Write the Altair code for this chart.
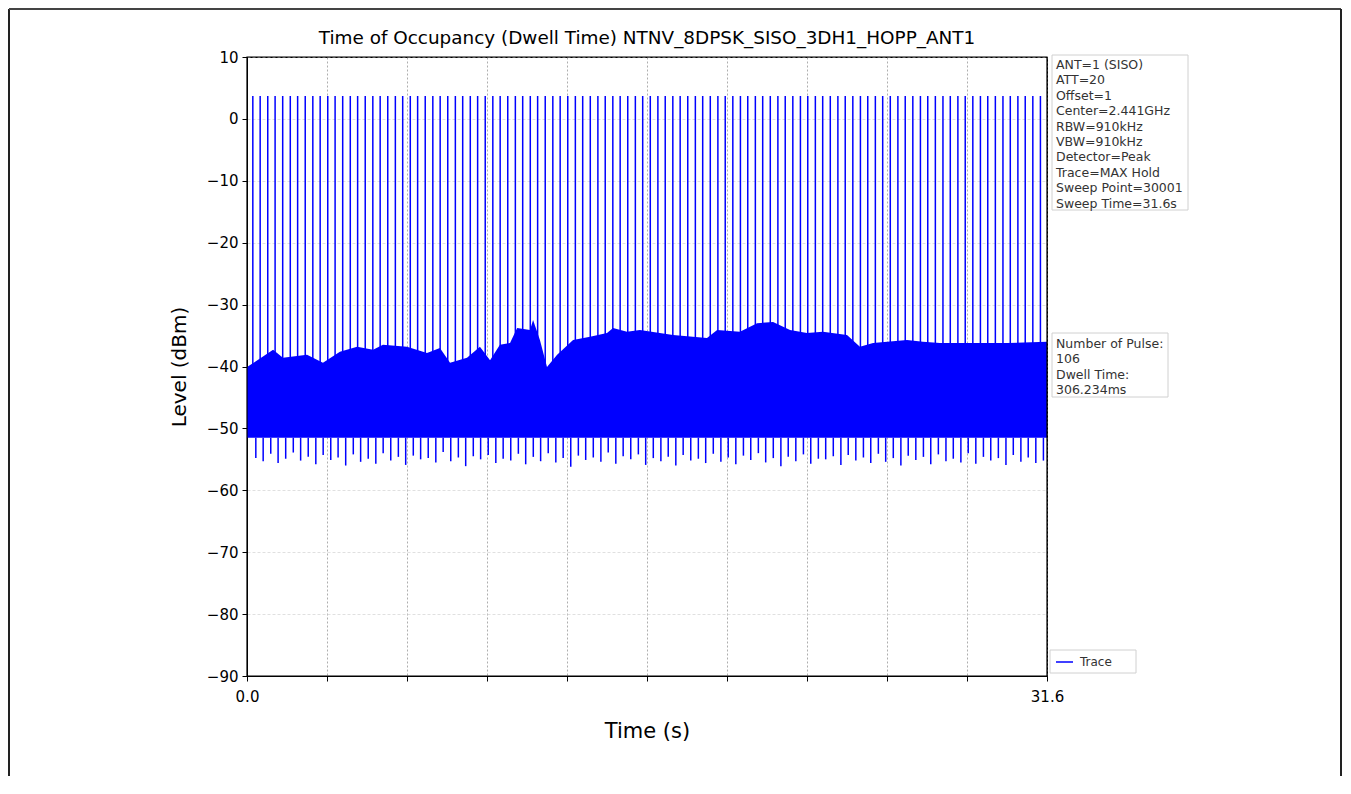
import altair as alt
import pandas as pd

# ---------------- data ----------------
pulse_times = [0.23, 0.52, 0.82, 1.11, 1.41, 1.71, 2.00, 2.30, 2.60, 2.89,
               3.19, 3.48, 3.78, 4.08, 4.37, 4.67, 4.97, 5.26, 5.56, 5.86,
               6.15, 6.45, 6.74, 7.04, 7.34, 7.63, 7.93, 8.23, 8.52, 8.82,
               9.11, 9.41, 9.71, 10.00, 10.30, 10.60, 10.89, 11.19, 11.48, 11.78,
               12.08, 12.37, 12.67, 12.97, 13.26, 13.56, 13.86, 14.15, 14.45, 14.74,
               15.04, 15.34, 15.63, 15.93, 16.23, 16.52, 16.82, 17.11, 17.41, 17.71,
               18.00, 18.30, 18.60, 18.89, 19.19, 19.49, 19.78, 20.08, 20.37, 20.67,
               20.97, 21.26, 21.56, 21.86, 22.15, 22.45, 22.74, 23.04, 23.34, 23.63,
               23.93, 24.23, 24.52, 24.82, 25.11, 25.41, 25.71, 26.00, 26.30, 26.60,
               26.89, 27.19, 27.49, 27.78, 28.08, 28.37, 28.67, 28.97, 29.26, 29.56,
               29.86, 30.15, 30.45, 30.74, 31.04, 31.34]
pulse_level = 3.7
pulse_base = -45.0

env_t = [0.0, 1.03, 1.42, 2.37, 3.0, 3.67, 4.35, 4.98, 5.37, 6.32, 7.11, 7.62,
         8.02, 8.69, 9.2, 9.6, 9.99, 10.39, 10.67, 11.18, 11.3, 11.57, 11.85,
         12.25, 12.88, 13.55, 14.22, 14.46, 15.01, 15.52, 16.83, 18.17, 18.57,
         19.47, 20.15, 20.78, 21.45, 22.12, 22.75, 23.7, 24.21, 24.73, 26.07,
         26.7, 27.37, 28.68, 30.02, 31.6]
env_top = [-40.1, -37.3, -38.6, -38.1, -39.4, -37.6, -36.8, -37.3, -36.5, -36.8,
           -37.8, -37.0, -39.4, -38.6, -36.8, -39.0, -36.5, -36.2, -33.8, -34.1,
           -32.5, -35.7, -40.1, -38.1, -35.7, -35.2, -34.6, -33.8, -34.4, -34.1,
           -34.9, -35.4, -34.1, -34.4, -33.0, -32.8, -34.1, -34.6, -34.4, -34.9,
           -36.8, -36.2, -35.7, -36.0, -36.2, -36.2, -36.2, -36.0]
band_bottom = -51.5

spike_depth = [-54.8, -55.3, -54.1, -55.6, -54.9, -53.9, -55.2, -54.6, -55.8, -54.3,
               -55.1, -54.7, -56.0, -54.2, -55.4, -54.9, -55.7, -54.0, -55.2, -54.6,
               -55.9, -54.4, -55.0, -54.8, -55.5, -53.8, -55.3, -54.7, -56.1, -54.5,
               -55.0, -54.3, -55.6, -54.9, -55.2, -54.1, -55.8, -54.6, -55.3, -54.0,
               -55.5, -54.8, -56.2, -54.4, -55.1, -54.7, -55.4, -53.9, -55.7, -54.5,
               -55.0, -54.2, -55.9, -54.8, -55.3, -54.6, -56.0, -54.3, -55.2, -54.9,
               -55.6, -54.1, -55.4, -54.7, -55.8, -54.4, -55.1, -54.0, -55.5, -54.8,
               -56.1, -54.6, -55.3, -54.2, -55.7, -54.9, -55.0, -54.5, -55.9, -54.3,
               -55.2, -54.7, -55.6, -54.1, -55.4, -54.8, -56.0, -54.4, -55.1, -54.6,
               -55.8, -54.2, -55.3, -54.9, -55.5, -54.0, -55.7, -54.6, -55.2, -54.8,
               -55.9, -54.3, -55.4, -54.7, -55.6, -55.2]

x_ticks = [0, 3.16, 6.32, 9.48, 12.64, 15.8, 18.96, 22.12, 25.28, 28.44, 31.6]
y_ticks = [-90, -80, -70, -60, -50, -40, -30, -20, -10, 0, 10]

info_lines = ["ANT=1 (SISO)", "ATT=20", "Offset=1", "Center=2.441GHz", "RBW=910kHz",
              "VBW=910kHz", "Detector=Peak", "Trace=MAX Hold", "Sweep Point=30001",
              "Sweep Time=31.6s"]
pulse_lines = ["Number of Pulse:", "106", "Dwell Time:", "306.234ms"]
title_text = "Time of Occupancy (Dwell Time) NTNV_8DPSK_SISO_3DH1_HOPP_ANT1"

# ---------------- tables ----------------
pulses = pd.DataFrame({"t": pulse_times, "top": pulse_level, "base": pulse_base})
env = pd.DataFrame({"t": env_t, "top": env_top, "bottom": band_bottom})
spikes = pd.DataFrame({"t": pulse_times, "depth": spike_depth, "bottom": band_bottom})
one = pd.DataFrame({"k": [0]})

BLUE = "#0000ff"
FONT = "DejaVu Sans"
W, H = 800, 619

xscale = alt.Scale(domain=[0, 31.6], nice=False, zero=False)
yscale = alt.Scale(domain=[-90, 10], nice=False, zero=False)

xaxis = alt.Axis(values=x_ticks, title="Time (s)",
                 labelExpr="datum.value == 0 ? '0.0' : (datum.value == 31.6 ? '31.6' : '')",
                 grid=True, gridDash=[2, 2], gridColor="#999999", gridWidth=0.8,
                 titleFontSize=21, titleFontWeight="normal", titlePadding=16,
                 labelFontSize=15, labelPadding=8, labelFlush=False)
yaxis = alt.Axis(values=y_ticks, title="Level (dBm)",
                 labelExpr="replace(datum.label, '-', '\u2212')",
                 grid=True, gridDash=[3, 2], gridColor="#d8d8d8", gridWidth=0.8,
                 titleFontSize=20, titleFontWeight="normal", titlePadding=17,
                 labelFontSize=15, labelPadding=4)

band = alt.Chart(env).mark_area(color=BLUE, opacity=1, interpolate="linear").encode(
    x=alt.X("t:Q", scale=xscale, axis=xaxis),
    y=alt.Y("top:Q", scale=yscale, axis=yaxis),
    y2="bottom:Q",
)

pulse_rules = alt.Chart(pulses).mark_rule(color=BLUE, strokeWidth=1.5).encode(
    x="t:Q", y="top:Q", y2="base:Q"
)

spike_rules = alt.Chart(spikes).mark_rule(color=BLUE, strokeWidth=1.5, xOffset=3).encode(
    x="t:Q", y="depth:Q", y2="bottom:Q"
)

# black frame of the plot area (drawn over the end grid lines)
frame = alt.Chart(one).mark_rect(fill=None, fillOpacity=0, stroke="#000000", strokeWidth=1.2).encode(
    x=alt.value(0), x2=alt.value(W), y=alt.value(0), y2=alt.value(H))

title_mark = alt.Chart(one).mark_text(
    text=title_text, align="center", baseline="middle", font=FONT, fontSize=18.4, color="#000000"
).encode(x=alt.value(W / 2), y=alt.value(-19))

def box(x1, x2, y1, y2):
    return alt.Chart(one).mark_rect(fill="white", stroke="#cccccc", strokeWidth=1, opacity=0.9).encode(
        x=alt.value(x1), x2=alt.value(x2), y=alt.value(y1), y2=alt.value(y2))

def text_block(lines, x, y, lh):
    return alt.Chart(one).mark_text(
        text="\n".join(lines), lineBreak="\n", lineHeight=lh, align="left", baseline="top",
        font=FONT, fontSize=12.5, color="#333333"
    ).encode(x=alt.value(x), y=alt.value(y))

info_box = box(805, 941, -2, 153)
info_text = text_block(info_lines, 809, 2, 15.4)
pulse_box = box(805, 921, 276, 340)
pulse_text = text_block(pulse_lines, 809, 281, 15.4)

legend_box = box(803, 889, 593, 616)
legend_line = alt.Chart(one).mark_rule(color=BLUE, strokeWidth=1.5).encode(
    x=alt.value(809), x2=alt.value(826), y=alt.value(605))
legend_text = alt.Chart(one).mark_text(
    text="Trace", align="left", baseline="middle", font=FONT, fontSize=12, color="#333333"
).encode(x=alt.value(833), y=alt.value(605))

# outer picture frame (left, top, right edges)
outer_left = alt.Chart(one).mark_rule(color="#222222", strokeWidth=2).encode(
    x=alt.value(-238), y=alt.value(-48), y2=alt.value(720))
outer_top = alt.Chart(one).mark_rule(color="#444444", strokeWidth=2).encode(
    x=alt.value(-238), x2=alt.value(1094), y=alt.value(-48))
outer_right = alt.Chart(one).mark_rule(color="#222222", strokeWidth=2).encode(
    x=alt.value(1094), y=alt.value(-48), y2=alt.value(720))

chart = alt.layer(
    band, spike_rules, pulse_rules, frame, title_mark,
    info_box, info_text, pulse_box, pulse_text,
    legend_box, legend_line, legend_text,
    outer_left, outer_top, outer_right,
).properties(
    width=W, height=H,
    autosize=alt.AutoSizeParams(type="none"),
    padding={"left": 239, "top": 49, "right": 296, "bottom": 100},
).configure(
    font=FONT, background="white"
).configure_view(
    stroke="#000000", strokeWidth=1
).configure_axis(
    domainColor="#000000", tickColor="#000000", tickSize=5, labelColor="#000000",
    titleColor="#000000", labelFont=FONT, titleFont=FONT
)

chart.save("out.html", embed_options={"renderer": "svg", "actions": False})
